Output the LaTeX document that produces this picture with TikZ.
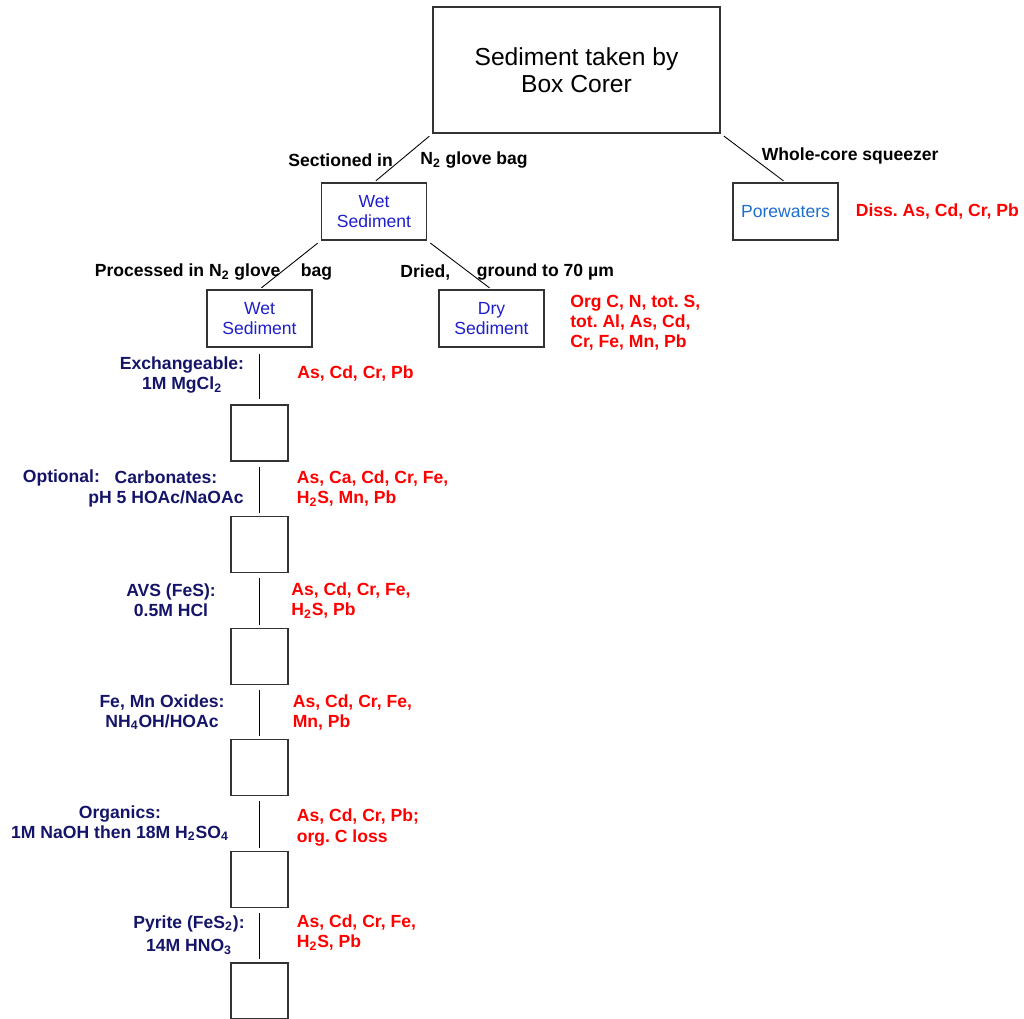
\documentclass[tikz,border=0pt]{standalone}
\usepackage{fontspec}
\setmainfont{Liberation Sans}
\frenchspacing
\definecolor{wetblue}{RGB}{30,30,205}
\definecolor{poreblue}{RGB}{30,110,205}
\definecolor{labelnavy}{RGB}{20,20,105}
\begin{document}
\begin{tikzpicture}[x=1cm,y=1cm,every node/.style={font=\fontsize{10}{11.4}\selectfont},
        box/.style={draw=black!80, line width=0.7pt, minimum width=2.1cm, minimum height=1.14cm, inner sep=0pt, align=center},
        emptybox/.style={draw=black!80, line width=0.7pt, minimum width=1.14cm, minimum height=1.12cm, inner sep=0pt},
        how/.style={font=\bfseries\fontsize{10}{11.4}\selectfont, inner sep=0pt, anchor=west},
        reagent/.style={font=\bfseries\fontsize{10}{11.4}\selectfont, text=labelnavy, inner sep=0pt, align=center},
        elem/.style={font=\bfseries\fontsize{10}{11.4}\selectfont, text=red, inner sep=0pt, align=left, anchor=west},
        link/.style={line width=0.5pt, shorten <=0.08cm, shorten >=0.05cm}]
                \useasboundingbox (0,0) rectangle (20.48,-20.38);
                \node[draw=black!80, line width=0.7pt, minimum width=5.74cm, minimum height=2.52cm, align=center,
                      font=\fontsize{14}{15.4}\selectfont] (core) at (11.53,-1.40) {Sediment taken by\\Box Corer};
                \node[box, text=wetblue] (wet) at (7.48,-4.23) {Wet\\Sediment};
                \node[box, text=poreblue] (pore) at (15.71,-4.23) {Porewaters};
                \node[box, text=wetblue] (wetbag) at (5.19,-6.37) {Wet\\Sediment};
                \node[box, text=wetblue] (dry) at (9.83,-6.37) {Dry\\Sediment};
                \draw[link] (core.south west) -- (wet.north);
                \draw[link] (core.south east) -- (pore.north);
                \draw[link] (wet.south west) -- (wetbag.north);
                \draw[link] (wet.south east) -- (dry.north);
                \node[how] (sect) at (5.76,-3.20) {Sectioned in};
                \node[how] (sectbag) at (8.40,-3.20) {N\textsubscript{2} glove bag};
                \node[how] (squeeze) at (15.23,-3.11) {Whole-core squeezer};
                \node[how] (proc) at (1.89,-5.44) {Processed in N\textsubscript{2} glove};
                \node[how] (procbag) at (6.01,-5.44) {bag};
                \node[how] (dried) at (8.00,-5.44) {Dried,};
                \node[how] (ground) at (9.53,-5.44) {ground to 70 µm};
                \node[elem] (diss) at (17.11,-4.22) {Diss. As, Cd, Cr, Pb};
                \node[elem] (drylist) at (11.40,-6.46) {Org C, N, tot. S,\\tot. Al, As, Cd,\\Cr, Fe, Mn, Pb};
                % extraction steps
                \foreach \i in {1,...,6}
                    \node[emptybox] (b\i) at (5.19,{-8.66-2.232*(\i-1)}) {};
                \draw[link, shorten <=0.12cm, shorten >=0.1cm] (wetbag.south) -- (b1.north);
                \foreach \i [count=\j from 2] in {1,...,5}
                    \draw[link, shorten <=0.1cm, shorten >=0.06cm] (b\i.south) -- (b\j.north);
                \node[reagent] (exch) at (3.64,-7.50) {Exchangeable:\\1M MgCl\textsubscript{2}};
                \node[elem] (exchel) at (5.94,-7.46) {As, Cd, Cr, Pb};
                \node[reagent, anchor=west] (opt) at (0.45,-9.56) {Optional:};
                \node[reagent] (carb) at (3.32,-9.78) {Carbonates:\\pH 5 HOAc/NaOAc};
                \node[elem] (carbel) at (5.93,-9.77) {As, Ca, Cd, Cr, Fe,\\H\textsubscript{2}S, Mn, Pb};
                \node[reagent] (avs) at (3.42,-12.01) {AVS (FeS):\\0.5M HCl};
                \node[elem] (avsel) at (5.82,-12.01) {As, Cd, Cr, Fe,\\H\textsubscript{2}S, Pb};
                \node[reagent] (oxid) at (3.24,-14.24) {Fe, Mn Oxides:\\NH\textsubscript{4}OH/HOAc};
                \node[elem] (oxidel) at (5.85,-14.25) {As, Cd, Cr, Fe,\\Mn, Pb};
                \node[reagent] (org) at (2.40,-16.46) {Organics:\\1M NaOH then 18M H\textsubscript{2}SO\textsubscript{4}};
                \node[elem] (orgel) at (5.93,-16.55) {As, Cd, Cr, Pb;\\org. C loss};
                \node[reagent] (pyr) at (3.78,-18.70) {Pyrite (FeS\textsubscript{2}):\\[2pt]14M HNO\textsubscript{3}};
                \node[elem] (pyrel) at (5.93,-18.65) {As, Cd, Cr, Fe,\\H\textsubscript{2}S, Pb};
            \end{tikzpicture}
\end{document}
